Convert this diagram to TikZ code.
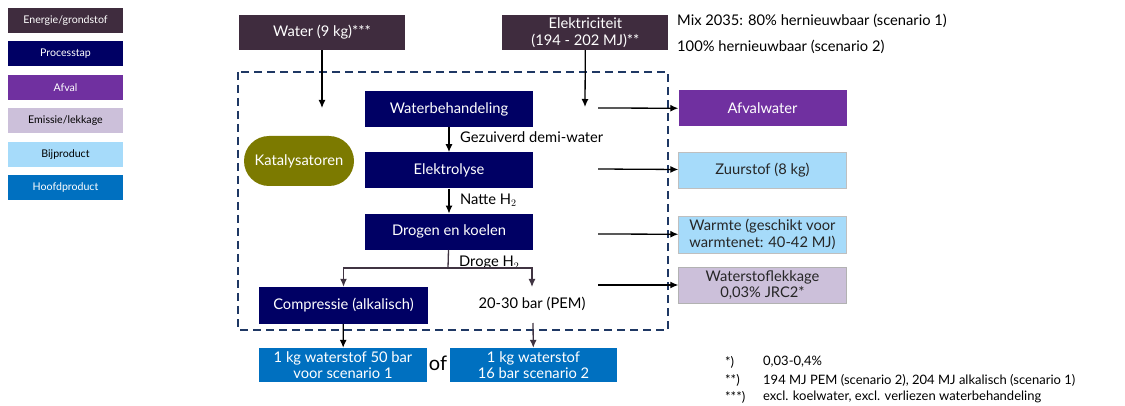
\documentclass[tikz,border=0pt]{standalone}
\usepackage{fontspec}
\setmainfont{Lato}
\usetikzlibrary{positioning,arrows.meta}

\definecolor{energiekleur}{RGB}{63,44,62}
\definecolor{proceskleur}{RGB}{0,0,100}
\definecolor{afvalkleur}{RGB}{112,48,160}
\definecolor{emissiekleur}{RGB}{204,192,218}
\definecolor{bijkleur}{RGB}{166,219,250}
\definecolor{hoofdkleur}{RGB}{0,112,192}
\definecolor{katkleur}{RGB}{124,122,0}
\definecolor{grenskleur}{RGB}{31,56,100}
\definecolor{takkleur}{RGB}{64,52,66}

\tikzset{
  blok/.style={rectangle, minimum width=168pt, minimum height=36pt, inner sep=1pt,
    align=center, font=\fontsize{14.7}{16.5}\selectfont},
  energie/.style={blok, fill=energiekleur, text=white, minimum width=166pt, minimum height=35pt},
  processtap/.style={blok, fill=proceskleur, text=white},
  afval/.style={blok, fill=afvalkleur, text=white},
  emissie/.style={blok, fill=emissiekleur, draw=gray!60, thin, text=black!85},
  bijproduct/.style={blok, fill=bijkleur, draw=gray!50, thin, text=black!85},
  hoofdproduct/.style={blok, fill=hoofdkleur, text=white, minimum height=34pt},
  legenda/.style={rectangle, minimum width=115pt, minimum height=25pt, inner sep=0pt,
    font=\fontsize{10.6}{12}\selectfont},
  tekst/.style={inner sep=0pt, anchor=west, font=\fontsize{14.7}{16.5}\selectfont},
  voetnoot/.style={inner sep=0pt, anchor=west, font=\fontsize{13}{14}\selectfont},
  pijl/.style={-{Latex[length=8pt,width=7pt]}, line width=1.3pt},
  tak/.style={pijl, draw=takkleur}
}

\begin{document}
\begin{tikzpicture}[x=1pt, y=-1pt]
  \useasboundingbox (0,0) rectangle (1125,406);
  % legend
  \node[legenda, fill=energiekleur, text=white] (lenergie) at (65.5,20.5) {Energie/grondstof};
  \node[legenda, fill=proceskleur, text=white, below=8pt of lenergie] (lproces) {Processtap};
  \node[legenda, fill=afvalkleur, text=white, below=8pt of lproces] (lafval) {Afval};
  \node[legenda, fill=emissiekleur, below=8pt of lafval] (lemissie) {Emissie/lekkage};
  \node[legenda, fill=bijkleur, below=8pt of lemissie] (lbij) {Bijproduct};
  \node[legenda, fill=hoofdkleur, text=white, below=8pt of lbij] (lhoofd) {Hoofdproduct};

  % inputs
  \node[energie] (water) at (322,32.5) {Water (9 kg)***};
  \node[energie, right=97pt of water] (elek) {Elektriciteit\\(194 - 202 MJ)**};
  \node[tekst] (mix1) at (677,21) {Mix 2035: 80\% hernieuwbaar (scenario 1)};
  \node[tekst] (mix2) at (677,47) {100\% hernieuwbaar (scenario 2)};

  % system boundary
  \draw[grenskleur, line width=2pt, dash pattern=on 8pt off 5pt] (238,72) rectangle (668,330);

  % process steps
  \node[processtap] (wb) at (449,109) {Waterbehandeling};
  \node[processtap, below=25pt of wb] (el) {Elektrolyse};
  \node[processtap, below=25pt of el] (dk) {Drogen en koelen};
  \node[processtap, minimum width=169pt, minimum height=37pt] (comp) at (343.5,305.5) {Compressie (alkalisch)};
  \node[inner sep=0pt, font=\fontsize{14.7}{16.5}\selectfont] (pem) at (532,304) {20-30 bar (PEM)};
  \node[rectangle, rounded corners=25pt, fill=katkleur, text=white, minimum width=110pt,
    minimum height=50pt, font=\fontsize{14.7}{16.5}\selectfont] (kat) at (299,161) {Katalysatoren};

  % outputs
  \node[afval] (afvalwater) at (762.5,108.5) {Afvalwater};
  \node[bijproduct] (zuurstof) at (762.5,170) {Zuurstof (8 kg)};
  \node[bijproduct, minimum height=37pt] (warmte) at (762.5,234.5) {Warmte (geschikt voor\\warmtenet: 40-42 MJ)};
  \node[emissie] (lekkage) at (762.5,285) {Waterstoflekkage\\0,03\% JRC2*};
  \node[hoofdproduct] (hp1) at (343,365) {1 kg waterstof 50 bar\\voor scenario 1};
  \node[hoofdproduct, minimum width=167pt] (hp2) at (533.5,365) {1 kg waterstof\\16 bar scenario 2};
  \node[inner sep=0pt, font=\fontsize{20}{22}\selectfont] (of) at (438,363) {of};

  % flow labels
  \node[tekst] (demi) at (460,137) {Gezuiverd demi-water};
  \node[tekst] (natte) at (460,200) {Natte H$_2$};
  \node[tekst] (droge) at (459,263) {Droge H$_2$};

  % footnotes
  \node[voetnoot] (n1) at (725,362) {*)};
  \node[voetnoot] (n2) at (725,380) {**)};
  \node[voetnoot] (n3) at (725,397) {***)};
  \node[voetnoot] (t1) at (763,362) {0,03-0,4\%};
  \node[voetnoot] (t2) at (763,380) {194 MJ PEM (scenario 2), 204 MJ alkalisch (scenario 1)};
  \node[voetnoot] (t3) at (763,397) {excl. koelwater, excl. verliezen waterbehandeling};

  % free ends
  \coordinate (waterin) at (322,108);
  \coordinate (elekin) at (585,107);
  \coordinate (uit1) at (598,108);
  \coordinate (uit2) at (598,169);
  \coordinate (uit3) at (598,234);
  \coordinate (uit4) at (598,285);
  \coordinate (splits) at (448,268);
  \coordinate (pemin) at (532,287);
  \coordinate (pemuit) at (533,323);

  % connect inputs
  \draw[pijl] (water) -- (waterin);
  \draw[pijl] (elek) -- (elekin);
  % connect process steps
  \draw[pijl] (wb) -- (el);
  \draw[pijl] (el) -- (dk);
  \draw[line width=1.3pt, draw=takkleur] (dk) -- (splits);
  \draw[tak] (splits) -| (comp);
  \draw[tak] (splits) -| (pemin);
  % connect to outputs
  \draw[pijl] (uit1) -- (afvalwater);
  \draw[pijl] (uit2) -- (zuurstof);
  \draw[pijl] (uit3) -- (warmte);
  \draw[pijl] (uit4) -- (lekkage);
  \draw[pijl] (comp) -- (hp1);
  \draw[tak] (pemuit) -- (hp2);
\end{tikzpicture}
\end{document}
